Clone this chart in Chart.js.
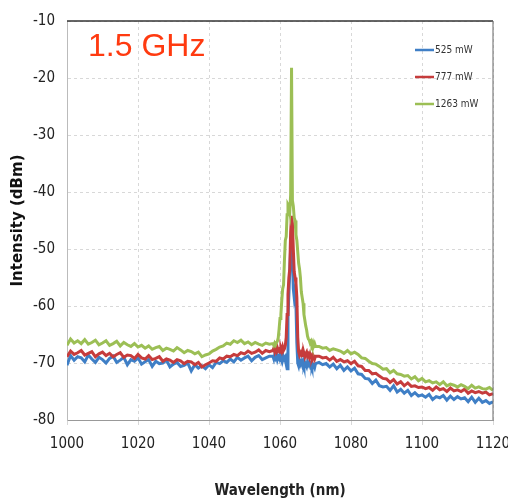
<!DOCTYPE html>
<html>
<head>
<meta charset="utf-8">
<script src="https://cdn.jsdelivr.net/npm/chart.js@4.4.1/dist/chart.umd.min.js"></script>
<style>
  html, body { margin: 0; padding: 0; background: #fff; }
  #spectrum { display: block; }
</style>
</head>
<body>
<canvas id="spectrum" width="508" height="500"></canvas>
<script>
// wavelength grid (nm), denser around the lasing peak
const wavelengths = [
  1000, 1001, 1002, 1003, 1004, 1005, 1006, 1007, 1008, 1009,
  1010, 1011, 1012, 1013, 1014, 1015, 1016, 1017, 1018, 1019,
  1020, 1021, 1022, 1023, 1024, 1025, 1026, 1027, 1028, 1029,
  1030, 1031, 1032, 1033, 1034, 1035, 1036, 1037, 1038, 1039,
  1040, 1041, 1042, 1043, 1044, 1045, 1046, 1047, 1048, 1049,
  1050, 1051, 1052, 1053, 1054, 1055, 1056, 1057,
  1058, 1058.25, 1058.5, 1058.75, 1059, 1059.25, 1059.5, 1059.75,
  1060, 1060.25, 1060.5, 1060.75, 1061, 1061.25, 1061.5, 1061.75,
  1062, 1062.25, 1062.5, 1062.75, 1063, 1063.25, 1063.5, 1063.75,
  1064, 1064.25, 1064.5, 1064.75, 1065, 1065.25, 1065.5, 1065.75,
  1066, 1066.25, 1066.5, 1066.75, 1067, 1067.25, 1067.5, 1067.75,
  1068, 1068.25, 1068.5, 1068.75, 1069, 1069.25, 1069.5, 1069.75, 1070,
  1071, 1072, 1073, 1074, 1075, 1076, 1077, 1078, 1079,
  1080, 1081, 1082, 1083, 1084, 1085, 1086, 1087, 1088, 1089,
  1090, 1091, 1092, 1093, 1094, 1095, 1096, 1097, 1098, 1099,
  1100, 1101, 1102, 1103, 1104, 1105, 1106, 1107, 1108, 1109,
  1110, 1111, 1112, 1113, 1114, 1115, 1116, 1117, 1118, 1119, 1120
];

const seriesLabels = ["525 mW", "777 mW", "1263 mW"];
const seriesColors = ["#3f7fc6", "#c63c3c", "#9cbf55"];

const p525 = [
  -70.4, -68.7, -69.5, -68.9, -69.1, -69.8, -68.6, -69.3, -69.9, -69.0,
  -69.4, -70.0, -69.2, -68.8, -69.9, -69.5, -69.0, -70.3, -69.4, -69.7,
  -69.1, -70.2, -69.8, -69.4, -70.6, -69.7, -70.1, -70.0, -69.5, -70.7,
  -70.2, -69.9, -70.6, -70.4, -70.0, -71.4, -70.3, -70.9, -70.5, -71.0,
  -70.3, -70.8, -69.9, -70.1, -69.6, -69.9, -69.3, -69.8, -69.0, -69.5,
  -69.1, -68.8, -69.6, -69.0, -68.7, -69.4, -69.1, -68.8,
  -68.8, -69.3, -68.6, -69.1, -68.7, -69.4, -68.9, -69.2,
  -68.6, -69.1, -68.8, -69.5, -68.9, -69.3, -69.0, -70.2,
  -71.0, -62.0, -58.0, -54.0, -50.0, -47.5, -51.5, -57.0,
  -58.5, -57.5, -60.0, -66.5, -70.0, -70.5, -69.6, -70.2,
  -69.8, -70.3, -69.7, -70.4, -69.9, -70.2, -70.6, -69.8,
  -70.3, -70.0, -70.5, -70.1, -70.7, -70.2, -70.4, -70.8, -70.1,
  -69.9, -70.3, -70.1, -70.7, -70.2, -71.0, -70.4, -71.3, -70.7,
  -71.4, -70.9, -71.9, -72.0, -72.7, -72.8, -73.6, -73.0, -74.0, -74.2,
  -74.1, -74.8, -74.0, -75.1, -74.6, -75.3, -74.8, -75.7, -75.2, -75.8,
  -75.6, -76.0, -75.5, -76.4, -75.9, -76.1, -75.7, -76.5, -75.8, -76.4,
  -75.9, -76.3, -76.1, -76.8, -76.0, -76.9, -76.2, -76.9, -76.6, -77.1, -76.8
];

const p777 = [
  -68.9, -67.9, -68.5, -68.2, -67.8, -68.6, -68.3, -68.0, -68.9, -68.4,
  -68.1, -68.7, -68.3, -68.9, -68.5, -68.2, -69.0, -68.6, -68.7, -69.2,
  -68.5, -69.1, -69.3, -68.7, -69.4, -69.2, -68.9, -69.7, -69.3, -69.5,
  -69.9, -69.4, -69.6, -70.1, -69.7, -69.8, -70.3, -69.9, -70.7, -70.3,
  -70.0, -69.6, -69.7, -69.1, -69.3, -68.8, -68.9, -68.5, -68.7, -68.2,
  -68.4, -67.9, -68.3, -68.1, -67.7, -68.3, -67.8, -68.0,
  -67.8, -67.4, -68.0, -67.5, -67.9, -67.3, -67.8, -67.6,
  -68.1, -67.4, -67.9, -67.2, -67.8, -67.5, -66.9, -65.5,
  -61.5, -58.0, -55.0, -53.5, -47.0, -44.2, -45.5, -50.0,
  -54.0, -55.0, -56.0, -58.5, -65.5, -68.0, -68.6, -68.2,
  -68.5, -68.0, -68.7, -68.3, -68.9, -68.4, -68.1, -68.8,
  -68.5, -69.0, -68.4, -68.8, -69.1, -68.6, -68.9, -69.3, -68.8,
  -68.8, -69.1, -69.0, -69.5, -69.0, -69.7, -69.4, -69.8, -69.6,
  -70.1, -69.7, -70.5, -70.6, -71.3, -71.3, -71.9, -71.8, -72.3, -72.7,
  -72.8, -73.4, -72.9, -73.7, -73.3, -74.0, -73.5, -74.1, -74.0, -74.3,
  -74.2, -74.5, -74.3, -74.8, -74.2, -74.7, -74.5, -75.0, -74.4, -74.9,
  -74.7, -75.0, -74.6, -75.3, -74.9, -75.2, -75.0, -75.3, -75.1, -75.6, -75.4
];

const p1263 = [
  -66.9, -65.8, -66.5, -66.1, -66.6, -65.9, -66.7, -66.4, -66.0, -66.8,
  -66.5, -66.1, -66.9, -66.6, -66.2, -67.0, -66.4, -66.8, -67.1, -66.6,
  -67.2, -66.9, -67.4, -67.0, -67.6, -67.3, -67.1, -67.8, -67.4, -67.6,
  -67.9, -67.3, -67.7, -68.2, -67.8, -68.0, -68.4, -68.1, -68.9, -68.6,
  -68.4, -67.9, -67.6, -67.2, -67.0, -66.5, -66.7, -66.1, -66.4, -66.0,
  -66.6, -66.3, -66.8, -66.4, -66.7, -66.9, -66.5, -66.7,
  -66.6, -66.9, -66.5, -66.8, -66.4, -66.2, -65.6, -64.0,
  -62.2, -61.5, -59.0, -57.0, -56.3, -52.0, -48.5, -47.8,
  -44.0, -42.2, -42.5, -43.5, -40.5, -18.2, -41.5, -42.5,
  -44.5, -45.0, -47.5, -48.5, -50.5, -52.5, -53.5, -55.0,
  -57.5, -58.5, -59.5, -61.5, -62.5, -63.5, -64.2, -65.3,
  -65.8, -66.0, -66.5, -66.2, -66.8, -66.4, -67.0, -66.6, -67.1,
  -67.1, -67.4, -67.3, -67.8, -67.5, -67.7, -67.9, -68.3, -67.8,
  -68.4, -68.1, -68.5, -69.1, -69.2, -69.7, -70.1, -70.2, -70.6, -71.1,
  -71.0, -71.7, -71.3, -71.9, -72.0, -72.3, -72.2, -72.8, -72.4, -73.1,
  -72.7, -73.3, -73.1, -73.5, -73.3, -73.8, -73.3, -74.0, -73.7, -73.9,
  -74.2, -73.8, -74.1, -74.5, -73.9, -74.4, -74.2, -74.5, -74.6, -74.3, -74.8
];

const seriesValues = [p525, p777, p1263];
const xTicks = [1000, 1020, 1040, 1060, 1080, 1100, 1120];
const yTicks = [-80, -70, -60, -50, -40, -30, -20, -10];

const narrowFont = "'Liberation Sans Narrow', 'DejaVu Sans Condensed', 'Liberation Sans', sans-serif";

// frame (dark top/right edges), the "1.5 GHz" label and the legend
const decorations = {
  id: "decorations",
  afterDatasetsDraw(chart) {
    const { ctx, chartArea: a } = chart;
    ctx.save();
    ctx.lineWidth = 1.5;
    ctx.strokeStyle = "#333";
    ctx.beginPath();
    ctx.moveTo(a.left, a.top);
    ctx.lineTo(a.right, a.top);
    ctx.stroke();
    ctx.strokeStyle = "#666";
    ctx.lineWidth = 1;
    ctx.beginPath();
    ctx.moveTo(a.right, a.top);
    ctx.lineTo(a.right, a.bottom);
    ctx.stroke();

    ctx.fillStyle = "#ff3a10";
    ctx.font = "32px 'Liberation Sans', Arial, sans-serif";
    ctx.textBaseline = "alphabetic";
    ctx.fillText("1.5 GHz", 88, 56);

    ctx.font = "10px " + narrowFont;
    ctx.textBaseline = "middle";
    chart.data.datasets.forEach((ds, i) => {
      const y = 50 + i * 27;
      ctx.strokeStyle = ds.borderColor;
      ctx.lineWidth = 2.5;
      ctx.beginPath();
      ctx.moveTo(415, y);
      ctx.lineTo(434, y);
      ctx.stroke();
      ctx.fillStyle = "#333";
      ctx.fillText(ds.label, 435, y);
    });
    ctx.restore();
  }
};

document.addEventListener("DOMContentLoaded", function () {
  const ctx = document.getElementById("spectrum").getContext("2d");

  const datasets = seriesLabels.map((label, i) => ({
    label: label,
    data: wavelengths.map((w, j) => ({ x: w, y: seriesValues[i][j] })),
    borderColor: seriesColors[i],
    borderWidth: 3,
    pointRadius: 0,
    tension: 0,
    order: 3 - i
  }));

  new Chart(ctx, {
    type: "line",
    data: { datasets: datasets },
    options: {
      responsive: false,
      animation: false,
      events: [],
      layout: { padding: { top: 15, right: 0, left: 0, bottom: 0 } },
      plugins: { legend: { display: false }, tooltip: { enabled: false } },
      scales: {
        x: {
          type: "linear",
          min: 1000,
          max: 1120,
          afterBuildTicks: (axis) => { axis.ticks = xTicks.map(v => ({ value: v })); },
          afterFit: (axis) => {
            axis.height = 80;
            axis.paddingLeft = 0;
            axis.paddingRight = 15;
          },
          grid: { color: "#d8d8d8", tickLength: 5, drawTicks: true },
          border: { color: "#999", width: 1, dash: [3, 3] },
          ticks: {
            color: "#222",
            padding: 10,
            maxRotation: 0,
            font: { family: narrowFont, size: 15 },
            callback: (v) => String(v)
          },
          title: {
            display: true,
            text: "Wavelength (nm)",
            color: "#222",
            padding: { top: 0, bottom: 0 },
            font: { family: narrowFont, size: 15, weight: "bold" }
          }
        },
        y: {
          min: -80,
          max: -10,
          afterBuildTicks: (axis) => { axis.ticks = yTicks.map(v => ({ value: v })); },
          afterFit: (axis) => { axis.width = 67; },
          grid: { color: "#d8d8d8", drawTicks: false },
          border: { color: "#bbb", width: 1, dash: [3, 3] },
          ticks: { color: "#222", padding: 12, font: { family: narrowFont, size: 15 } },
          title: {
            display: true,
            text: "Intensity (dBm)",
            color: "#111",
            padding: { top: 9, bottom: 0 },
            font: { family: "'DejaVu Sans', sans-serif", size: 15, weight: "bold" }
          }
        }
      }
    },
    plugins: [decorations]
  });
});
</script>
</body>
</html>
